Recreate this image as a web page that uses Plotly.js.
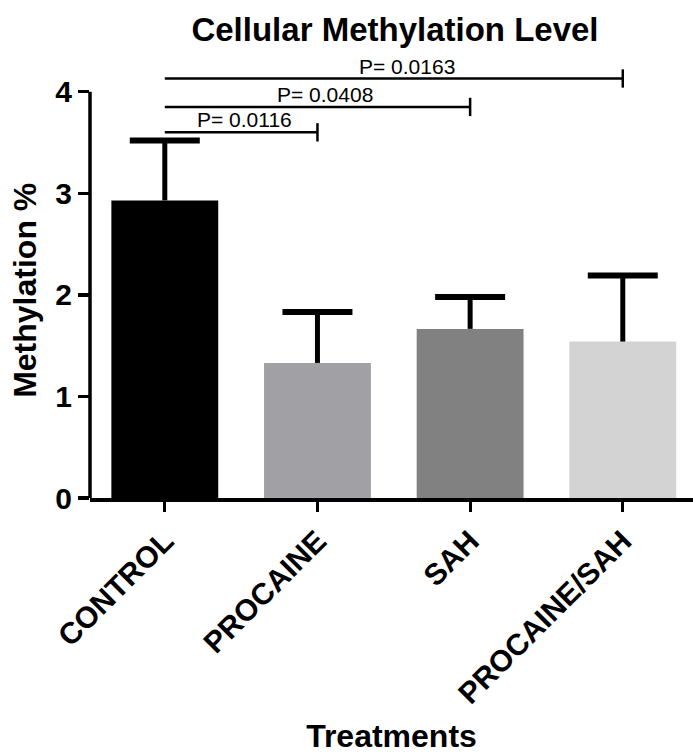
<!DOCTYPE html>
<html>
<head>
<meta charset="utf-8">
<script src="https://cdn.plot.ly/plotly-3.0.1.min.js"></script>
<style>html,body{margin:0;padding:0;background:#fff;}#chart{width:693px;height:754px;}</style>
</head>
<body>
<div id="chart"></div>
<script>
// ---- data ----
const categories = ['CONTROL', 'PROCAINE', 'SAH', 'PROCAINE/SAH'];
const meanValues = [2.93, 1.33, 1.665, 1.54];
const errorValues = [0.59, 0.50, 0.315, 0.65];
const barColors = ['#000000', '#a1a0a4', '#818181', '#d3d3d3'];
const yTickValues = [0, 1, 2, 3, 4];
const compareFrom = [0, 0, 0];
const compareTo = [1, 2, 3];
const pLabels = ['P= 0.0116', 'P= 0.0408', 'P= 0.0163'];
const bracketLevels = [3.60, 3.85, 4.13];

const FONT = 'Liberation Sans, Arial, sans-serif';

const bars = {
  type: 'bar',
  x: categories,
  y: meanValues,
  width: 0.7,
  marker: {color: barColors, line: {width: 0}},
  error_y: {
    type: 'data', symmetric: false,
    array: errorValues,
    arrayminus: errorValues.map(() => 0),
    width: 0, thickness: 5, color: '#000'
  },
  hoverinfo: 'x+y',
  showlegend: false
};

const caps = {
  type: 'scatter', mode: 'markers',
  x: categories,
  y: meanValues.map((m, i) => m + errorValues[i]),
  marker: {symbol: 'line-ew', size: 50, color: '#000', line: {color: '#000', width: 6}},
  hoverinfo: 'skip',
  showlegend: false
};

const shapes = [];
const annotations = [];
// y-axis line only from 0 to the top tick
shapes.push({type: 'line', xref: 'paper', yref: 'y', x0: 0, x1: 0,
  y0: yTickValues[0], y1: yTickValues[yTickValues.length - 1],
  line: {color: '#000', width: 3.5}});

const tickHalf = 0.09;
for (let i = 0; i < pLabels.length; i++) {
  const a = compareFrom[i], b = compareTo[i], lv = bracketLevels[i];
  shapes.push({type: 'line', xref: 'x', yref: 'y', x0: a, x1: b, y0: lv, y1: lv,
    line: {color: '#000', width: 2.5}});
  shapes.push({type: 'line', xref: 'x', yref: 'y', x0: b, x1: b, y0: lv - tickHalf, y1: lv + tickHalf,
    line: {color: '#000', width: 2.5}});
  annotations.push({xref: 'x', yref: 'y', x: (a + b) / 2, y: lv, text: pLabels[i],
    showarrow: false, yanchor: 'bottom', xanchor: 'center', borderpad: 0, xshift: 3 + 5 * i,
    font: {family: FONT, size: 21, color: '#000'}});
}
annotations.push({xref: 'paper', yref: 'y', x: 0, y: 2, xanchor: 'center', yanchor: 'middle',
  xshift: -65, yshift: 4, textangle: -90, showarrow: false, text: 'Methylation %',
  font: {family: FONT, size: 32, color: '#000', weight: 'bold'}});

const layout = {
  width: 693, height: 754,
  margin: {l: 90, r: 0, t: 46, b: 256},
  paper_bgcolor: '#fff', plot_bgcolor: '#fff',
  title: {text: 'Cellular Methylation Level', x: 395 / 693, xanchor: 'center',
    yref: 'container', y: 0.976, yanchor: 'top',
    font: {family: FONT, size: 33, color: '#000', weight: 'bold'}},
  xaxis: {
    type: 'category', range: [-0.49, 3.46],
    showline: true, linecolor: '#000', linewidth: 3.5,
    ticks: 'outside', ticklen: 10, tickwidth: 3, tickcolor: '#000',
    tickangle: -45, tickfont: {family: FONT, size: 30, color: '#000', weight: 'bold'},
    showgrid: false, zeroline: false, automargin: false,
    title: {text: 'Treatments', standoff: 28, font: {family: FONT, size: 32, color: '#000', weight: 'bold'}}
  },
  yaxis: {
    range: [0, 4.45], tickvals: yTickValues, ticktext: yTickValues.map(String),
    showline: false, ticks: 'outside', ticklen: 11, tickwidth: 3.5, tickcolor: '#000',
    tickfont: {family: FONT, size: 30, color: '#000', weight: 'bold'},
    showgrid: false, zeroline: false, automargin: false
  },
  shapes: shapes,
  annotations: annotations,
  bargap: 0.3
};

Plotly.newPlot('chart', [bars, caps], layout, {displayModeBar: false, staticPlot: true});
</script>
</body>
</html>
